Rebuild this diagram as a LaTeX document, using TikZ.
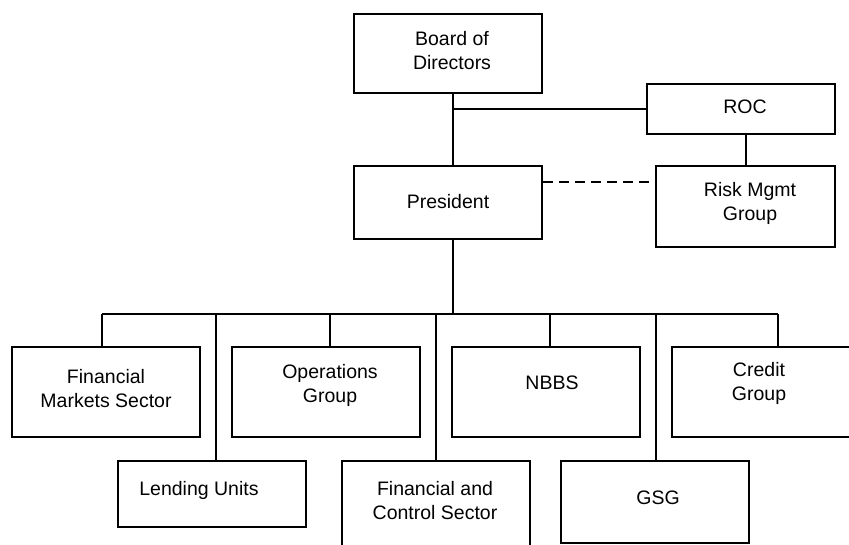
\documentclass[tikz,border=0pt]{standalone}
\usepackage{fontspec}
\setmainfont{Liberation Sans}
\begin{document}
\begin{tikzpicture}[x=1pt,y=-1pt,
  box/.style={draw=black,line width=1.6pt,fill=white,inner sep=0pt,minimum width=188pt},
  txt/.style={align=center,inner sep=0pt,font=\fontsize{19.5}{24}\selectfont},
  conn/.style={line width=1.6pt},
  dconn/.style={line width=1.6pt,dash pattern=on 10pt off 6pt}]
\useasboundingbox (0,0) rectangle (849,544);
\clip (0,0) rectangle (849,544);
% boxes
\node[box,minimum height=79pt] (bod) at (448,53.5) {};
\node[box,minimum height=50pt] (roc) at (741,109) {};
\node[box,minimum height=73pt] (pres) at (448,202.5) {};
\node[box,minimum width=179pt,minimum height=81pt] (risk) at (745.5,206.5) {};
\node[box,minimum height=90pt] (fms) at (106,392) {};
\node[box,minimum height=90pt] (ops) at (326,392) {};
\node[box,minimum height=90pt] (nbbs) at (546,392) {};
\node[box,minimum height=90pt] (cred) at (766,392) {};
\node[box,minimum height=66pt] (lend) at (212,494) {};
\node[box,minimum height=90pt] (fcs) at (436,506) {};
\node[box,minimum height=82pt] (gsg) at (655,502) {};
% texts
\node[txt] (bodt) at (452,51) {Board of\\Directors};
\node[txt] (roct) at (745,107) {ROC};
\node[txt] (prest) at (448,202) {President};
\node[txt] (riskt) at (750,203.5) {Risk Mgmt\\Group};
\node[txt] (fmst) at (106,389) {Financial\\Markets Sector};
\node[txt] (opst) at (330,385) {Operations\\Group};
\node[txt] (nbbst) at (552,383) {NBBS};
\node[txt] (credt) at (759,383.5) {Credit\\Group};
\node[txt] (lendt) at (199,490) {Lending Units};
\node[txt] (fcst) at (435,501) {Financial and\\Control Sector};
\node[txt] (gsgt) at (658,498) {GSG};
% junctions
\coordinate (j1) at (453,109);
\coordinate (j2) at (453,314);
\coordinate (d) at (0,182);
\coordinate (s1) at (102,314);
\coordinate (s2) at (216,314);
\coordinate (s3) at (330,314);
\coordinate (s4) at (436,314);
\coordinate (s5) at (550,314);
\coordinate (s6) at (656,314);
\coordinate (s7) at (778,314);
% connectors
\draw[conn] (j1 |- bod.south) -- (j1 |- pres.north);
\draw[conn] (j1) -- (j1 -| roc.west);
\draw[conn] (risk.north -| 746,0) -- (roc.south -| 746,0);
\draw[dconn] (pres.east |- d) -- (risk.west |- d);
\draw[conn] (j2 |- pres.south) -- (j2);
\draw[conn] (s1) -- (s7);
\draw[conn] (s1) -- (s1 |- fms.north);
\draw[conn] (s2) -- (s2 |- lend.north);
\draw[conn] (s3) -- (s3 |- ops.north);
\draw[conn] (s4) -- (s4 |- fcs.north);
\draw[conn] (s5) -- (s5 |- nbbs.north);
\draw[conn] (s6) -- (s6 |- gsg.north);
\draw[conn] (s7) -- (s7 |- cred.north);
\end{tikzpicture}
\end{document}
